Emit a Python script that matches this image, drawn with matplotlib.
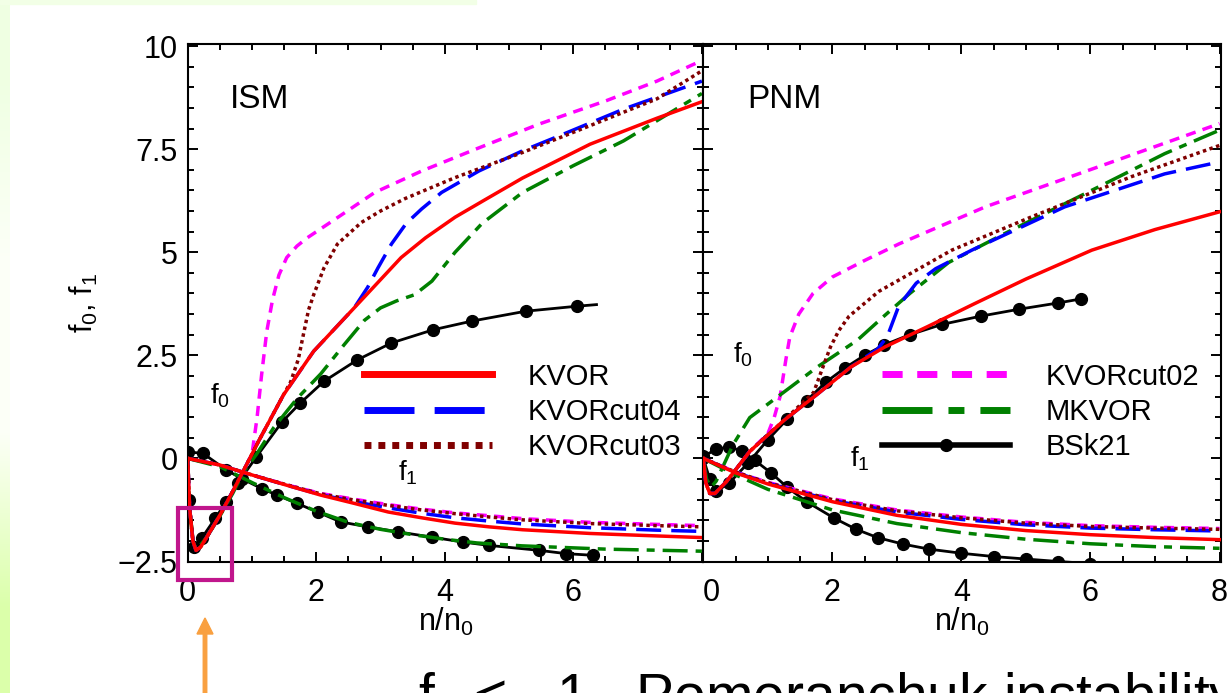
import matplotlib
matplotlib.use("Agg")
from matplotlib import pyplot as plt
from matplotlib.lines import Line2D
from matplotlib.patches import Rectangle, FancyArrow
import matplotlib.transforms as mtransforms
import numpy as np

plt.rcParams['font.family'] = ['Liberation Sans', 'DejaVu Sans']
plt.rcParams['mathtext.default'] = 'regular'

# ---- ISM panel (left) ----
ism_kvor_f0_x = [0, 0.03, 0.08, 0.13, 0.2, 0.3, 0.5, 0.7, 0.86, 1.1, 1.49, 1.96, 2.59, 3.32, 3.7, 4.16, 4.6, 5.21, 6.26, 7.3, 8.0]
ism_kvor_f0_y = [0, -1.2, -2.0, -2.23, -2.15, -1.9, -1.38, -0.8, -0.32, 0.41, 1.54, 2.6, 3.65, 4.87, 5.35, 5.85, 6.25, 6.8, 7.62, 8.25, 8.65]
ism_cut02_f0_x = [0, 0.03, 0.08, 0.13, 0.2, 0.3, 0.5, 0.7, 0.86, 1.0, 1.08, 1.15, 1.23, 1.32, 1.42, 1.54, 1.7, 1.86, 2.1, 2.33, 2.91, 3.64, 4.48, 5.47, 6.52, 7.3, 8.0]
ism_cut02_f0_y = [0, -1.2, -2.0, -2.23, -2.15, -1.9, -1.38, -0.8, -0.32, 0.1, 1.0, 2.03, 3.08, 3.85, 4.45, 4.87, 5.15, 5.35, 5.6, 5.84, 6.45, 6.97, 7.5, 8.11, 8.68, 9.15, 9.65]
ism_cut03_f0_x = [0, 0.03, 0.08, 0.13, 0.2, 0.3, 0.5, 0.7, 0.86, 1.1, 1.49, 1.6, 1.72, 1.81, 1.88, 1.96, 2.12, 2.33, 2.7, 3.0, 3.38, 4.16, 5.21, 6.26, 7.3, 8.0]
ism_cut03_f0_y = [0, -1.2, -2.0, -2.23, -2.15, -1.9, -1.38, -0.8, -0.32, 0.41, 1.54, 1.85, 2.4, 3.08, 3.6, 3.97, 4.62, 5.2, 5.72, 6.0, 6.3, 6.81, 7.42, 8.07, 8.72, 9.4]
ism_cut04_f0_x = [0, 0.03, 0.08, 0.13, 0.2, 0.3, 0.5, 0.7, 0.86, 1.1, 1.49, 1.96, 2.59, 2.8, 2.96, 3.17, 3.4, 3.64, 3.95, 4.53, 5.21, 5.73, 6.78, 8.0]
ism_cut04_f0_y = [0, -1.2, -2.0, -2.23, -2.15, -1.9, -1.38, -0.8, -0.32, 0.41, 1.54, 2.6, 3.65, 4.15, 4.62, 5.2, 5.7, 6.05, 6.45, 6.97, 7.46, 7.79, 8.47, 9.15]
ism_mkvor_f0_x = [0, 0.03, 0.08, 0.13, 0.2, 0.3, 0.5, 0.7, 0.86, 1.07, 1.34, 1.7, 2.07, 2.43, 2.75, 3.0, 3.25, 3.53, 3.8, 4.16, 4.58, 5.21, 6.0, 6.78, 8.0]
ism_mkvor_f0_y = [0, -1.2, -2.0, -2.2, -2.1, -1.9, -1.4, -0.85, -0.35, 0.1, 0.75, 1.45, 2.05, 2.75, 3.35, 3.65, 3.82, 3.97, 4.3, 5.0, 5.7, 6.45, 7.1, 7.7, 8.85]
ism_bsk_f0_x = [0.02, 0.1, 0.22, 0.43, 0.6, 0.78, 1.07, 1.47, 1.75, 2.12, 2.64, 3.17, 3.82, 4.42, 5.26, 6.05, 6.36]
ism_bsk_f0_y = [-1.0, -2.15, -1.93, -1.45, -1.05, -0.6, 0.04, 0.89, 1.34, 1.87, 2.39, 2.8, 3.12, 3.33, 3.57, 3.69, 3.73]

ism_kvor_f1_x = [0, 0.5, 1.02, 1.54, 2.07, 2.59, 3.12, 3.64, 4.16, 4.69, 5.21, 6.26, 7.3, 8.0]
ism_kvor_f1_y = [0, -0.16, -0.41, -0.65, -0.89, -1.09, -1.3, -1.44, -1.57, -1.66, -1.73, -1.82, -1.88, -1.92]
ism_cut_f1_x = [0, 0.5, 1.02, 1.54, 2.07, 2.59, 3.12, 3.64, 4.16, 4.69, 5.21, 6.26, 7.3, 8.0]
ism_cut02_f1_y = [0, -0.16, -0.41, -0.64, -0.85, -0.99, -1.12, -1.23, -1.32, -1.39, -1.46, -1.55, -1.6, -1.63]
ism_cut03_f1_y = [0, -0.16, -0.41, -0.64, -0.86, -1.01, -1.14, -1.25, -1.34, -1.42, -1.49, -1.58, -1.63, -1.66]
ism_cut04_f1_y = [0, -0.16, -0.41, -0.65, -0.88, -1.05, -1.2, -1.33, -1.44, -1.52, -1.59, -1.68, -1.74, -1.77]
ism_mkvor_f1_x = [0, 0.5, 1.02, 1.5, 2.0, 2.5, 3.0, 3.5, 4.0, 4.5, 5.2, 6.5, 8.0]
ism_mkvor_f1_y = [0, -0.2, -0.6, -0.95, -1.28, -1.55, -1.72, -1.85, -1.96, -2.05, -2.12, -2.2, -2.25]
ism_bsk_f1_x = [0, 0.24, 0.6, 0.84, 1.15, 1.39, 1.7, 2.02, 2.38, 2.8, 3.27, 3.8, 4.29, 4.69, 5.47, 5.89, 6.31]
ism_bsk_f1_y = [0.16, 0.12, -0.28, -0.49, -0.73, -0.89, -1.09, -1.3, -1.54, -1.66, -1.78, -1.91, -2.03, -2.11, -2.23, -2.31, -2.35]

# ---- PNM panel (right) ----
pnm_kvor_f0_x = [0, 0.04, 0.1, 0.18, 0.36, 0.72, 1.24, 1.77, 2.29, 2.81, 3.48, 4.2, 5.0, 6.02, 7.0, 8.0]
pnm_kvor_f0_y = [0, -0.6, -0.85, -0.85, -0.56, 0.17, 0.91, 1.56, 2.22, 2.7, 3.2, 3.75, 4.35, 5.05, 5.55, 5.98]
pnm_cut02_f0_x = [0, 0.04, 0.1, 0.18, 0.36, 0.72, 1.0, 1.1, 1.19, 1.28, 1.34, 1.48, 1.7, 2.0, 2.5, 3.03, 4.37, 6.12, 8.0]
pnm_cut02_f0_y = [0, -0.6, -0.85, -0.85, -0.56, 0.17, 0.6, 1.0, 1.5, 2.4, 2.94, 3.5, 4.0, 4.4, 4.8, 5.2, 6.1, 7.07, 8.12]
pnm_cut03_f0_x = [0, 0.04, 0.1, 0.18, 0.36, 0.72, 1.24, 1.71, 1.85, 1.97, 2.1, 2.26, 2.72, 3.85, 5.09, 6.63, 8.0]
pnm_cut03_f0_y = [0, -0.6, -0.85, -0.85, -0.56, 0.17, 0.91, 1.6, 2.2, 2.7, 3.1, 3.45, 4.05, 5.05, 5.86, 6.83, 7.59]
pnm_cut04_f0_x = [0, 0.04, 0.1, 0.18, 0.36, 0.72, 1.24, 1.77, 2.29, 2.7, 2.85, 3.03, 3.3, 3.6, 4.16, 5.6, 7.15, 8.0]
pnm_cut04_f0_y = [0, -0.6, -0.85, -0.85, -0.56, 0.17, 0.91, 1.56, 2.22, 2.65, 2.95, 3.7, 4.25, 4.6, 5.05, 6.1, 6.9, 7.19]
pnm_mkvor_f0_x = [0, 0.05, 0.12, 0.2, 0.46, 0.72, 1.14, 1.77, 2.39, 2.8, 3.2, 3.8, 4.68, 6.12, 7.15, 8.0]
pnm_mkvor_f0_y = [0, -0.5, -0.7, -0.55, 0.33, 0.99, 1.48, 2.22, 2.87, 3.45, 4.0, 4.75, 5.46, 6.58, 7.39, 7.96]
pnm_bsk_f0_x = [0, 0.1, 0.2, 0.4, 0.7, 1.0, 1.3, 1.6, 1.9, 2.2, 2.5, 2.8, 3.2, 3.7, 4.3, 4.9, 5.5, 5.86]
pnm_bsk_f0_y = [0, -0.5, -0.8, -0.6, -0.1, 0.45, 0.95, 1.4, 1.85, 2.2, 2.5, 2.75, 3.0, 3.25, 3.45, 3.62, 3.77, 3.87]

pnm_f1_x = [0, 0.5, 1, 2, 3, 4, 5, 6, 7, 8]
pnm_kvor_f1_y = [0, -0.35, -0.62, -1.05, -1.38, -1.6, -1.75, -1.85, -1.92, -1.97]
pnm_cut02_f1_y = [0, -0.33, -0.58, -0.98, -1.25, -1.42, -1.55, -1.63, -1.67, -1.7]
pnm_cut03_f1_y = [0, -0.33, -0.59, -1.0, -1.27, -1.44, -1.57, -1.65, -1.69, -1.72]
pnm_cut04_f1_y = [0, -0.34, -0.6, -1.02, -1.3, -1.48, -1.61, -1.69, -1.73, -1.76]
pnm_mkvor_f1_y = [0, -0.4, -0.75, -1.25, -1.58, -1.8, -1.96, -2.07, -2.14, -2.18]
pnm_bsk_f1_x = [0, 0.2, 0.4, 0.6, 0.8, 1.05, 1.3, 1.6, 2.03, 2.37, 2.7, 3.1, 3.5, 4.0, 4.5, 5.0, 5.5, 6.0]
pnm_bsk_f1_y = [0.05, 0.22, 0.28, 0.18, -0.05, -0.35, -0.7, -1.05, -1.45, -1.72, -1.92, -2.08, -2.2, -2.3, -2.38, -2.44, -2.5, -2.55]

y_ticks = [-2.5, 0, 2.5, 5, 7.5, 10]
y_labels = ["\u22122.5", "0", "2.5", "5", "7.5", "10"]

# styles
RED = dict(color="#ff0000", lw=2.5, ls="-")
BLUE = dict(color="#0000ff", lw=2.5, dashes=(7.2, 2.9))
BROWN = dict(color="#800000", lw=2.5, dashes=(1.0, 1.0))
MAG = dict(color="#ff00ff", lw=2.5, dashes=(2.9, 2.1))
GREEN = dict(color="#008000", lw=2.5, dashes=(7.2, 2.3, 2.3, 2.3))
BLACK = dict(color="black", lw=2.0, marker="o", ms=8.5)

fig = plt.figure(figsize=(12.29, 6.93), dpi=100)

# slide background strips
bg = fig.add_axes([0, 0, 10 / 1229, 1])
grad = np.array([[0.94, 1.0, 0.89], [0.99, 1.0, 0.97], [0.99, 1.0, 0.97], [0.86, 1.0, 0.67]])
bg.imshow(grad[:, None, :], aspect="auto", interpolation="bilinear", extent=(0, 1, 0, 1))
bg.set_axis_off()
fig.patches.append(Rectangle((0, 1 - 4 / 693), 476 / 1229, 4 / 693, transform=fig.transFigure,
                             color="#f2ffe6", zorder=0))

ax1 = fig.add_axes([187.7 / 1229, 131.5 / 693, 515.5 / 1229, 517.5 / 693])
ax2 = fig.add_axes([703.3 / 1229, 131.5 / 693, 517.5 / 1229, 517.5 / 693])


def style_axis(ax):
    ax.set_xlim(0, 8.02)
    ax.set_ylim(-2.5, 10.05)
    ax.set_xticks([0, 2, 4, 6, 8])
    ax.set_xticks(np.arange(0, 8.01, 0.5), minor=True)
    ax.set_yticks(y_ticks)
    ax.set_yticks(np.arange(-2.5, 10.01, 0.5), minor=True)
    ax.tick_params(which="both", direction="in", top=True, right=True, width=1.4, labelsize=22)
    ax.tick_params(which="major", length=7)
    ax.tick_params(which="minor", length=4)
    ax.tick_params(axis="x", pad=12)
    ax.tick_params(axis="y", pad=7)
    for s in ax.spines.values():
        s.set_linewidth(1.5)
    ax.set_xlabel("n/n$_0$", fontsize=22, labelpad=-1.5)


# left panel
ax1.plot(ism_kvor_f0_x, ism_kvor_f0_y, **RED, zorder=6)
ax1.plot(ism_cut04_f0_x, ism_cut04_f0_y, **BLUE, zorder=4)
ax1.plot(ism_cut03_f0_x, ism_cut03_f0_y, **BROWN, zorder=4)
ax1.plot(ism_cut02_f0_x, ism_cut02_f0_y, **MAG, zorder=3)
ax1.plot(ism_mkvor_f0_x, ism_mkvor_f0_y, **GREEN, zorder=3)
ax1.plot(ism_bsk_f0_x, ism_bsk_f0_y, **BLACK, markevery=list(range(len(ism_bsk_f0_x) - 1)), zorder=2)

ax1.plot(ism_cut_f1_x, ism_cut02_f1_y, **MAG, zorder=3)
ax1.plot(ism_cut_f1_x, ism_cut04_f1_y, **BLUE, zorder=3)
ax1.plot(ism_cut_f1_x, ism_cut03_f1_y, **BROWN, zorder=4)
ax1.plot(ism_kvor_f1_x, ism_kvor_f1_y, **RED, zorder=6)
ax1.plot(ism_bsk_f1_x, ism_bsk_f1_y, **BLACK, zorder=2)
ax1.plot(ism_mkvor_f1_x, ism_mkvor_f1_y, **GREEN, zorder=3)

style_axis(ax1)
ax1.set_xticklabels(["0", "2", "4", "6", ""])
ax1.set_yticklabels(y_labels)
ax1.set_ylabel("f$_0$, f$_1$", fontsize=22, labelpad=13)
ax1.text(0.082, 0.876, "ISM", transform=ax1.transAxes, fontsize=24)
ax1.text(0.043, 0.306, "f$_0$", transform=ax1.transAxes, fontsize=20)
ax1.text(0.408, 0.157, "f$_1$", transform=ax1.transAxes, fontsize=20)

# right panel
ax2.plot(pnm_kvor_f0_x, pnm_kvor_f0_y, **RED, zorder=6)
ax2.plot(pnm_cut04_f0_x, pnm_cut04_f0_y, **BLUE, zorder=4)
ax2.plot(pnm_cut03_f0_x, pnm_cut03_f0_y, **BROWN, zorder=4)
ax2.plot(pnm_cut02_f0_x, pnm_cut02_f0_y, **MAG, zorder=3)
ax2.plot(pnm_mkvor_f0_x, pnm_mkvor_f0_y, **GREEN, zorder=3)
ax2.plot(pnm_bsk_f0_x, pnm_bsk_f0_y, **BLACK, zorder=2)

ax2.plot(pnm_f1_x, pnm_cut02_f1_y, **MAG, zorder=3)
ax2.plot(pnm_f1_x, pnm_cut04_f1_y, **BLUE, zorder=3)
ax2.plot(pnm_f1_x, pnm_cut03_f1_y, **BROWN, zorder=4)
ax2.plot(pnm_f1_x, pnm_kvor_f1_y, **RED, zorder=6)
ax2.plot(pnm_f1_x, pnm_mkvor_f1_y, **GREEN, zorder=3)
ax2.plot(pnm_bsk_f1_x, pnm_bsk_f1_y, **BLACK, zorder=2)

style_axis(ax2)
ax2.set_xticklabels(["0", "2", "4", "6", "8"])
ax2.set_yticklabels([])
# first tick label sits a little right of its tick
lab0 = ax2.xaxis.get_major_ticks()[0].label1
lab0.set_transform(lab0.get_transform() + mtransforms.ScaledTranslation(0.08, 0, fig.dpi_scale_trans))
ax2.text(0.085, 0.876, "PNM", transform=ax2.transAxes, fontsize=24)
ax2.text(0.057, 0.384, "f$_0$", transform=ax2.transAxes, fontsize=20)
ax2.text(0.283, 0.183, "f$_1$", transform=ax2.transAxes, fontsize=20)

# legends with thicker proxy lines
def proxy(st, label):
    d = dict(st)
    d["lw"] = d["lw"] * 2.0
    return Line2D([], [], label=label, **d)

leg_kw = dict(loc="center left", frameon=False, fontsize=21, borderpad=0, borderaxespad=0,
              handlelength=4.4, handletextpad=1.2, labelspacing=0.25, numpoints=1)
ax1.legend(handles=[proxy(RED, "KVOR"), proxy(BLUE, "KVORcut04"), proxy(BROWN, "KVORcut03")],
           bbox_to_anchor=(0.342, 0.289), **leg_kw)
ax2.legend(handles=[proxy(MAG, "KVORcut02"), proxy(GREEN, "MKVOR"), proxy(BLACK, "BSk21")],
           bbox_to_anchor=(0.345, 0.289), **leg_kw)

# slide annotations
fig.patches.append(Rectangle((178 / 1229, 1 - 580 / 693), 54 / 1229, 72 / 693, transform=fig.transFigure,
                             fill=False, ec="#c0168c", lw=3.0, zorder=10))
fig.patches.append(FancyArrow(205 / 1229, 0.0, 0, 75 / 693, width=3.5 / 1229,
                              head_width=16 / 1229, head_length=16 / 693,
                              length_includes_head=True, transform=fig.transFigure,
                              color="#f9a040", zorder=10))
fig.text(418 / 1229, 1 - 714 / 693, "f$_0$ < \u22121   Pomeranchuk instability", fontsize=41, va="baseline")

fig.savefig("out.png", dpi=100)
